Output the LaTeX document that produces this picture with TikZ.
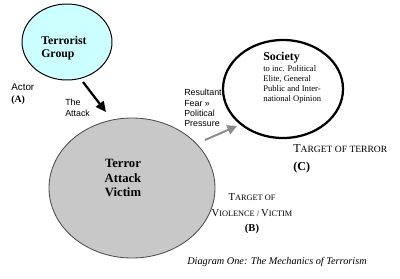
\documentclass[tikz,border=0pt]{standalone}
\usepackage{fontspec}
\setmainfont{Liberation Serif}
\setsansfont{Liberation Sans}
\usetikzlibrary{arrows.meta,shapes.geometric}
\definecolor{TGCyan}{HTML}{CCFFFF}
\definecolor{TGGrey}{HTML}{C8C8C8}
\definecolor{TGEdge}{HTML}{4D4D4D}
\definecolor{TGArrow}{HTML}{8C8C8C}
% fake small caps: big first letter, rest small
\newcommand{\scpart}[2]{{\fontsize{#1}{#1}\selectfont #2}}

\begin{document}
\begin{tikzpicture}[line join=round,
    blob/.style={ellipse,inner sep=0pt},
    sanslabel/.style={font=\sffamily\fontsize{6.3}{7.2}\selectfont,align=left,inner sep=0pt},
    serflabel/.style={align=left,inner sep=0pt}]
  \useasboundingbox (0,0) rectangle (10,6.95);
  % the three circles
  \node[blob,draw=black,fill=TGCyan,line width=0.7pt,minimum width=2.25cm,minimum height=1.9cm] (group) at (1.675,5.9) {};
  \node[blob,draw=TGEdge,fill=TGGrey,line width=0.6pt,minimum width=4.15cm,minimum height=3.5cm] (victim) at (3.3,2.25) {};
  \node[blob,draw=black,fill=white,line width=1.6pt,minimum width=3.0cm,minimum height=2.45cm] (society) at (7.075,4.725) {};
  % texts inside
  \node[serflabel,anchor=west,font=\rmfamily\bfseries\fontsize{8.4}{9.2}\selectfont] (groupTxt) at (1.025,5.75) {Terrorist\\Group};
  \node[align=center,inner sep=0pt,font=\rmfamily\bfseries\fontsize{9}{10.6}\selectfont] (victimTxt) at (3.075,2.5) {Terror\\Attack\\Victim};
  \node[serflabel,anchor=west,font=\fontsize{6.1}{7.1}\selectfont] (societyTxt) at (6.575,5.0) {{\bfseries\fontsize{8.5}{9}\selectfont Society}\\[0.6pt]to inc. Political\\Elite, General\\Public and Inter-\\national Opinion};
  % labels outside
  \node[serflabel,anchor=west,font=\fontsize{7}{8.5}\selectfont] (actor) at (0.275,4.6) {{\sffamily Actor}\\{\rmfamily\bfseries (A)}};
  \node[sanslabel,anchor=west,font=\sffamily\fontsize{6.3}{7.8}\selectfont] (attackTxt) at (1.625,4.2625) {The\\Attack};
  \node[sanslabel,anchor=west] (fearTxt) at (4.6,4.25) {Resultant\\Fear \guillemotright\\Political\\Pressure};
  \node[serflabel,anchor=west] (targetC) at (7.325,2.975) {\scpart{8.6}{T}\scpart{6.8}{ARGET OF TERROR}\\[1pt]{\bfseries\fontsize{8.6}{9}\selectfont (C)}};
  \node[align=center,inner sep=0pt] (targetB) at (6.3,1.6) {\scpart{7.5}{T}\scpart{5.9}{ARGET OF}\\[-1pt]\scpart{7.5}{V}\scpart{5.9}{IOLENCE / }\scpart{7.5}{V}\scpart{5.9}{ICTIM}\\[-1pt]{\bfseries\fontsize{7.5}{8}\selectfont (B)}};
  \node[inner sep=0pt,font=\rmfamily\itshape\fontsize{7.3}{8}\selectfont] (caption) at (6.925,0.4) {Diagram One: The Mechanics of Terrorism};
  % arrows
  \coordinate (atkFrom) at (2.075,4.9);
  \coordinate (atkTo) at (2.65,4.15);
  \coordinate (fearFrom) at (5.125,3.45);
  \coordinate (fearTo) at (5.925,3.8);
  \draw[-{Triangle[length=2.6mm,width=2.4mm]},line width=1.6pt] (atkFrom) -- (atkTo);
  \draw[-{Triangle[length=2.4mm,width=2.4mm]},TGArrow,line width=1.4pt] (fearFrom) -- (fearTo);
\end{tikzpicture}
\end{document}
